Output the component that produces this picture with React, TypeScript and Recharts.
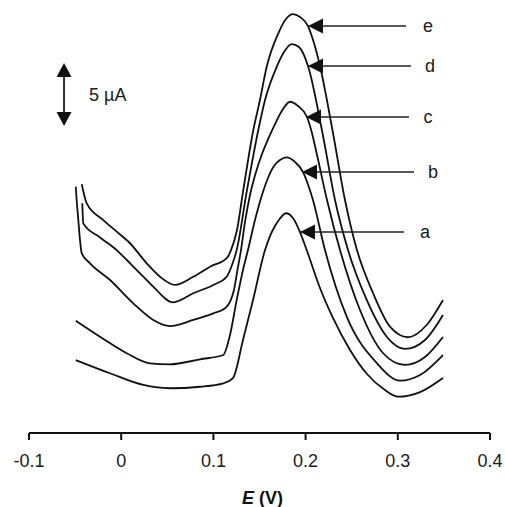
import React from 'react';
import { LineChart, Line, XAxis, YAxis, ReferenceLine, ReferenceDot } from 'recharts';

// Potential (V) and current (µA) readings for each voltammogram
const eE = [-0.0428,-0.0374,-0.0194,-0.0049,0.0095,0.0277,0.0421,0.0584,0.0782,0.0963,0.1144,0.1191,0.1256,0.1321,0.1433,0.1505,0.1578,0.1704,0.1787,0.1863,0.1939,0.2026,0.2091,0.2156,0.2297,0.2427,0.2557,0.2731,0.2915,0.3111,0.3313,0.3490];
const eI = [19.74,18.23,16.90,15.98,15.06,13.47,12.40,11.75,12.40,13.20,13.87,14.52,16.11,19.13,24.05,26.43,29.07,31.72,32.86,33.25,33.02,32.30,30.95,29.13,23.81,18.49,14.52,11.11,8.44,7.60,8.57,10.56];

const dE = [-0.0422,-0.0411,-0.0230,-0.0049,0.0060,0.0131,0.0277,0.0348,0.0565,0.0782,0.0999,0.1144,0.1202,0.1253,0.1361,0.1487,0.1560,0.1687,0.1766,0.1849,0.1928,0.2026,0.2183,0.2319,0.2460,0.2663,0.2880,0.3078,0.3295,0.3490];
const dI = [18.23,16.64,15.52,14.52,13.73,13.20,12.14,11.61,10.37,11.09,11.75,12.40,13.33,14.52,19.13,24.05,26.43,29.07,30.24,30.87,30.63,29.13,23.81,18.49,14.52,10.56,7.64,6.67,7.38,9.37];

const cE = [-0.0493,-0.0479,-0.0465,-0.0447,-0.0428,-0.0338,-0.0121,0.0131,0.0348,0.0529,0.0782,0.0999,0.1126,0.1180,0.1223,0.1261,0.1299,0.1343,0.1397,0.1462,0.1527,0.1603,0.1679,0.1755,0.1831,0.1918,0.2015,0.2069,0.2124,0.2232,0.2373,0.2590,0.2839,0.3078,0.3295,0.3490];
const cI = [19.55,18.10,16.90,15.32,14.26,13.47,12.14,10.29,8.97,8.49,8.97,9.50,9.90,10.40,11.35,12.94,14.52,16.75,18.89,20.71,22.14,23.49,24.68,25.71,26.29,25.95,25.08,23.81,22.06,18.49,14.52,9.76,6.35,5.40,6.03,7.62];

const bE = [-0.0493,-0.0230,0.0060,0.0312,0.0529,0.0855,0.1107,0.1180,0.1253,0.1321,0.1375,0.1451,0.1527,0.1592,0.1657,0.1722,0.1795,0.1874,0.1972,0.2080,0.2210,0.2446,0.2771,0.3024,0.3241,0.3490];
const bI = [8.91,7.64,6.33,5.53,5.45,5.85,6.19,7.78,10.56,12.94,14.52,16.90,18.89,20.24,21.19,21.67,21.88,21.59,20.71,18.49,14.52,9.23,5.56,4.15,4.60,6.19];

const aE = [-0.0493,-0.0121,0.0240,0.0529,0.0855,0.1107,0.1213,0.1321,0.1430,0.1560,0.1614,0.1668,0.1722,0.1787,0.1863,0.1939,0.2012,0.2156,0.2297,0.2482,0.2666,0.2861,0.3002,0.3241,0.3490];
const aI = [5.79,4.74,3.81,3.55,3.67,3.94,4.37,7.38,10.56,14.52,15.63,16.43,17.02,17.44,17.06,15.95,14.52,11.51,9.13,6.59,4.68,3.41,2.88,3.25,4.37];

const xTicks = [-0.1, 0, 0.1, 0.2, 0.3, 0.4];

// Annotation arrows (curve letters)
const labels = ['a', 'b', 'c', 'd', 'e'];
const arrowTipE = [0.1939, 0.1961, 0.2004, 0.2026, 0.2026];
const arrowI = [15.95, 20.71, 25.08, 29.13, 32.30];
const arrowEndE = [0.3067, 0.3176, 0.3121, 0.3143, 0.3089];
const labelE = [0.3295, 0.3382, 0.3328, 0.3349, 0.3328];

// Scale bar (5 µA)
const scaleE = -0.062;
const scaleBottom = 24.37;
const scaleTop = 29.37;
const scaleLabelE = -0.0349;
const scaleLabel = '5 µA';

const zip = (xs: number[], ys: number[]) => xs.map((x, i) => ({ e: x, i: ys[i] }));
const series = [zip(aE, aI), zip(bE, bI), zip(cE, cI), zip(dE, dI), zip(eE, eI)];

const FONT = '"Liberation Sans", Arial, Helvetica, sans-serif';
const INK = '#111';

const LeftHead = (p: any) => (
  <path d={`M${p.cx},${p.cy} L${p.cx + 15},${p.cy - 7.5} L${p.cx + 15},${p.cy + 7.5} Z`} fill={INK} />
);
const UpHead = (p: any) => (
  <path d={`M${p.cx},${p.cy} L${p.cx - 7.5},${p.cy + 14} L${p.cx + 7.5},${p.cy + 14} Z`} fill={INK} />
);
const DownHead = (p: any) => (
  <path d={`M${p.cx},${p.cy} L${p.cx - 7.5},${p.cy - 14} L${p.cx + 7.5},${p.cy - 14} Z`} fill={INK} />
);
const makeText = (t: string, anchor: 'start' | 'middle', dy: number) => (p: any) => (
  <text x={p.cx} y={p.cy + dy} textAnchor={anchor} fontFamily={FONT} fontSize={18} fill="#1a1a1a">{t}</text>
);

const AxisTitle = (props: any) => {
  const vb = props.viewBox || { x: 29, y: 433, width: 461, height: 74 };
  return (
    <text x={vb.x + vb.width / 2 + 3} y={vb.y + 71} textAnchor="middle" fontFamily={FONT} fontSize={18} fontWeight="bold" fill={INK}>
      <tspan fontStyle="italic">E</tspan>
      <tspan> (V)</tspan>
    </text>
  );
};

export default function App() {
  return (
    <div style={{ position: 'absolute', left: 0, top: 0, background: '#fff' }}>
      <LineChart width={505} height={507} margin={{ top: 4.6, right: 15, bottom: 0, left: 29 }}>
        <XAxis
          dataKey="e"
          type="number"
          domain={[-0.1, 0.4]}
          ticks={xTicks}
          interval={0}
          allowDataOverflow
          tickFormatter={(v: number) => String(v)}
          height={74}
          tickSize={7}
          tickMargin={14}
          axisLine={{ stroke: INK, strokeWidth: 2 }}
          tickLine={{ stroke: INK, strokeWidth: 2 }}
          tick={{ fontFamily: FONT, fontSize: 18, fill: '#1a1a1a' }}
          label={<AxisTitle />}
        />
        <YAxis hide type="number" domain={[0, 34]} allowDataOverflow />
        {series.map((d, k) => (
          <Line
            key={labels[k]}
            data={d}
            dataKey="i"
            type="monotone"
            dot={false}
            stroke={INK}
            strokeWidth={1.8}
            isAnimationActive={false}
          />
        ))}
        {labels.map((l, k) => (
          <ReferenceLine
            key={'al' + l}
            segment={[{ x: arrowTipE[k], y: arrowI[k] }, { x: arrowEndE[k], y: arrowI[k] }]}
            stroke="#222"
            strokeWidth={1.5}
          />
        ))}
        {labels.map((l, k) => (
          <ReferenceDot key={'ah' + l} x={arrowTipE[k]} y={arrowI[k]} shape={LeftHead} />
        ))}
        {labels.map((l, k) => (
          <ReferenceDot key={'lb' + l} x={labelE[k]} y={arrowI[k]} shape={makeText(l, 'middle', 6)} />
        ))}
        <ReferenceLine
          segment={[{ x: scaleE, y: scaleBottom + 0.5 }, { x: scaleE, y: scaleTop - 0.5 }]}
          stroke="#333"
          strokeWidth={2}
        />
        <ReferenceDot x={scaleE} y={scaleTop} shape={UpHead} />
        <ReferenceDot x={scaleE} y={scaleBottom} shape={DownHead} />
        <ReferenceDot x={scaleLabelE} y={(scaleTop + scaleBottom) / 2} shape={makeText(scaleLabel, 'start', 6.5)} />
      </LineChart>
    </div>
  );
}
